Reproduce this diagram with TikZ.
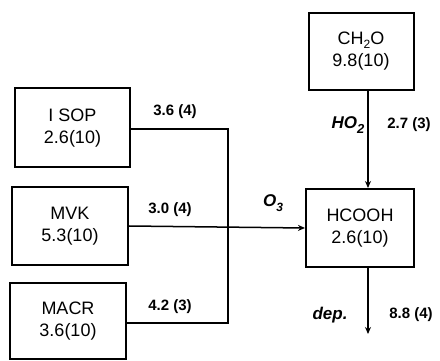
\documentclass[tikz,border=0pt]{standalone}
\usepackage{fontspec}
\setmainfont{Liberation Sans}
\usetikzlibrary{arrows.meta}
\begin{document}
\begin{tikzpicture}[x=1pt,y=-1pt,
  species/.style={draw,line width=2pt,align=center,inner sep=0pt,font=\fontsize{18}{22}\selectfont},
  link/.style={line width=1.5pt},
  arr/.style={line width=1.5pt,-{Stealth[length=7pt,width=6pt,open]}},
  rate/.style={font=\bfseries\fontsize{15}{17}\selectfont},
  via/.style={font=\bfseries\itshape\fontsize{17}{19}\selectfont}]
\useasboundingbox (0,0) rectangle (440,361);
\node[species,minimum width=115pt,minimum height=79pt] (isop) at (72.5,128) {I SOP\\2.6(10)};
\node[species,minimum width=116pt,minimum height=77pt] (mvk) at (70,226) {MVK\\5.3(10)};
\node[species,minimum width=116pt,minimum height=76pt] (macr) at (68,321) {MACR\\3.6(10)};
\node[species,minimum width=105pt,minimum height=77pt] (ch2o) at (361,51.5) {CH\raisebox{-0.35ex}{\fontsize{12}{13}\selectfont 2}O\\9.8(10)};
\node[species,minimum width=108pt,minimum height=78pt] (hcooh) at (360,228) {HCOOH\\2.6(10)};
\coordinate (jt) at (228,129);
\coordinate (jb) at (228,323);
\coordinate (ax) at (368,0);
\coordinate (dend) at (368,334);
\draw[link] (isop.east |- jt) -- (jt) -- (jb) -- (macr.east |- jb);
\draw[arr] (mvk.east) -- (hcooh.west);
\draw[arr] (ch2o.south -| ax) -- (hcooh.north -| ax);
\draw[arr] (hcooh.south -| ax) -- (dend);
\node[rate] (r1) at (175,112) {3.6 (4)};
\node[rate] (r2) at (170,210) {3.0 (4)};
\node[rate] (r3) at (170,307) {4.2 (3)};
\node[via] (o3) at (273,203) {O\raisebox{-0.5ex}{\fontsize{12}{13}\selectfont 3}};
\node[via] (ho2) at (348,125) {HO\raisebox{-0.5ex}{\fontsize{13}{14}\selectfont 2}};
\node[rate] (r4) at (409,125) {2.7 (3)};
\node[via] (dep) at (330,315) {dep.};
\node[rate] (r5) at (411,315) {8.8 (4)};
\end{tikzpicture}
\end{document}
